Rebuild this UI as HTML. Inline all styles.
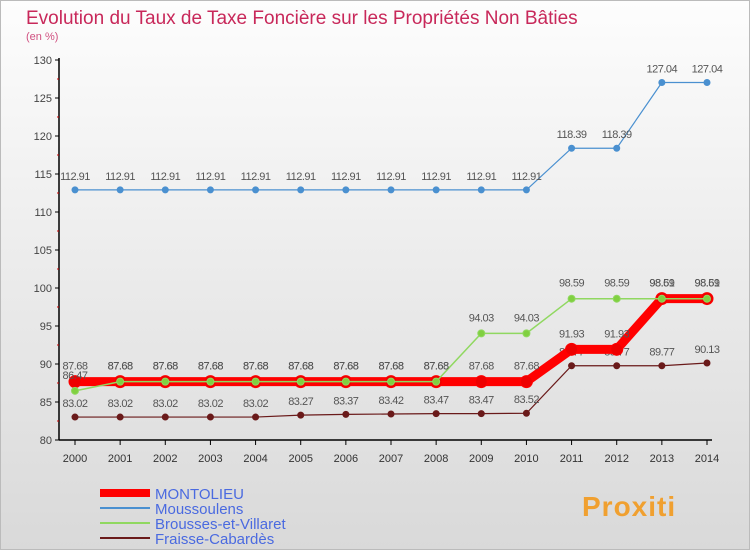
<!DOCTYPE html>
<html><head><meta charset="utf-8"><style>
body{margin:0;width:750px;height:550px;overflow:hidden;font-family:"Liberation Sans",sans-serif}
#wrap{position:relative;width:748px;height:548px;border:1px solid #bbb;background:linear-gradient(#fdfdfd,#d9d9d9)}
</style></head><body>
<div id="wrap">
<svg id="chart" width="750" height="550" style="position:absolute;left:-1px;top:-1px"></svg>
</div>
<script>
const years=[2000,2001,2002,2003,2004,2005,2006,2007,2008,2009,2010,2011,2012,2013,2014];
const montolieu=[87.68,87.68,87.68,87.68,87.68,87.68,87.68,87.68,87.68,87.68,87.68,91.93,91.93,98.61,98.61];
const moussoulens=[112.91,112.91,112.91,112.91,112.91,112.91,112.91,112.91,112.91,112.91,112.91,118.39,118.39,127.04,127.04];
const brousses=[86.47,87.68,87.68,87.68,87.68,87.68,87.68,87.68,87.68,94.03,94.03,98.59,98.59,98.59,98.59];
const fraisse=[83.02,83.02,83.02,83.02,83.02,83.27,83.37,83.42,83.47,83.47,83.52,89.77,89.77,89.77,90.13];
const yTicks=[80,85,90,95,100,105,110,115,120,125,130];
const NS='http://www.w3.org/2000/svg';
const svg=document.getElementById('chart');
const x=i=>75+i*(632/14);
const y=v=>440-(v-80)*7.6;
function el(t,a,p){const e=document.createElementNS(NS,t);for(const k in a)e.setAttribute(k,a[k]);(p||svg).appendChild(e);return e;}
function txt(s,a){const e=el('text',a);e.textContent=s;return e;}
let t=txt('Evolution du Taux de Taxe Foncière sur les Propriétés Non Bâties',{x:26,y:24,'font-size':19,fill:'#c8285a'});


t=txt('(en %)',{x:26,y:40,'font-size':11,fill:'#d05080'});


let ax=el('line',{x1:59,y1:58,x2:59,y2:440,stroke:'#000','stroke-width':1.5});


ax=el('line',{x1:59,y1:440,x2:712,y2:440,stroke:'#000','stroke-width':1.5});


yTicks.forEach(v=>{el('line',{x1:55,y1:y(v),x2:59,y2:y(v),stroke:'#000'});
 if(v<130)el('line',{x1:57,y1:y(v+2.5),x2:59,y2:y(v+2.5),stroke:'#c00'});
 const l=txt(v,{x:52,y:y(v)+4,'font-size':11,fill:'#444','text-anchor':'end'});
 
 });
years.forEach((yr,i)=>{el('line',{x1:x(i),y1:440,x2:x(i),y2:445,stroke:'#000'});
 const l=txt(yr,{x:x(i),y:462,'font-size':11,fill:'#333','text-anchor':'middle'});
 
 });
function series(vals,name,color,w,r,fill,labelDy){
 const g=el('g',{});
 
 
 el('polyline',{points:vals.map((v,i)=>x(i)+','+y(v)).join(' '),fill:'none',stroke:color,'stroke-width':w},g);
 vals.forEach((v,i)=>{const c=el('circle',{cx:x(i),cy:y(v),r:r,fill:fill,stroke:color,'stroke-width':1},g);
  
  
  const l=txt(v.toFixed(2),{x:x(i),y:y(v)+labelDy,'font-size':11,fill:'#555','text-anchor':'middle','letter-spacing':'-0.5'});
  
  });
}
series(moussoulens,'moussoulens','#4a90d0',1.2,3,'#4a90d0',-10);
series(fraisse,'fraisse-cabardes','#6a1a1a',1.2,3,'#6a1a1a',-10);
series(montolieu,'montolieu','#ff0000',9,6,'#ee0000',-12);
series(brousses,'brousses-et-villaret','#90d860',1.5,3.5,'#80d040',-12);
const leg=[['MONTOLIEU','#ff0000',8],['Moussoulens','#4a90d0',2],['Brousses-et-Villaret','#90d860',2],['Fraisse-Cabardès','#6a1a1a',2]];
leg.forEach((d,i)=>{const g=el('g',{});
 
 
 const yy=493+i*15;
 el('line',{x1:100,y1:yy,x2:150,y2:yy,stroke:d[1],'stroke-width':d[2]},g);
 const l=el('text',{x:155,y:yy+6,'font-size':15,fill:'#4a6ae0'},g);l.textContent=d[0];});
const logo=txt('Proxiti',{x:582,y:516,'font-size':28,'font-weight':'bold',fill:'#f0a030','letter-spacing':'1'});


</script>
</body></html>
